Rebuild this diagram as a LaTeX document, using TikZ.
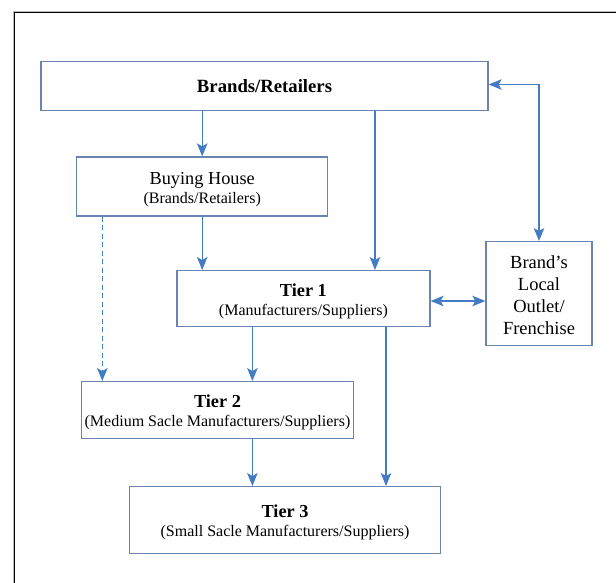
\documentclass[tikz,border=0pt]{standalone}
\usepackage{fontspec}
\setmainfont{Liberation Serif}
\usetikzlibrary{arrows.meta}

\definecolor{boxline}{RGB}{106,132,178}
\definecolor{flowblue}{RGB}{68,124,196}

\tikzset{
  panel/.style={draw=boxline, line width=1.3pt, inner sep=0pt, align=center,
    font=\fontsize{18.3}{19}\selectfont},
  flow/.style={draw=flowblue, line width=1.3pt,
    -{Stealth[length=13pt,width=10.5pt,inset=3pt]}},
  twoway/.style={draw=flowblue, line width=1.3pt,
    {Stealth[length=13pt,width=10.5pt,inset=3pt]}-{Stealth[length=13pt,width=10.5pt,inset=3pt]}},
  frameline/.style={draw=black, line width=1.4pt}
}
% second, smaller line of a two-line box
\newcommand{\subline}[1]{{\fontsize{16}{19}\selectfont #1}}
% extra head room on a first line, lowering the text block a little
\newcommand{\headroom}{\rule{0pt}{17.5pt}}

\begin{document}
\begin{tikzpicture}[x=1pt,y=-1pt]
  \useasboundingbox (0,0) rectangle (616,583);

  % outer frame (left and top edges)
  \draw[gray!55, line width=0.7pt] (13.4,583) -- (13.4,11.8) -- (616,11.8);
  \draw[frameline] (14.6,583) -- (14.6,12.7) -- (616,12.7);

  % boxes
  \node[panel, minimum width=447pt, minimum height=49pt,
        font=\fontsize{18.7}{19}\selectfont] (brands) at (264.5,85.7)
    {\bfseries Brands/Retailers};
  \node[panel, minimum width=251pt, minimum height=59pt] (buying) at (202.2,186.5)
    {\headroom Buying House\\\subline{(Brands/Retailers)}};
  \node[panel, minimum width=253pt, minimum height=56pt] (tier1) at (303.4,298.7)
    {\headroom\bfseries Tier 1\\\subline{(Manufacturers/Suppliers)}};
  \node[panel, minimum width=106pt, minimum height=104pt,
        font=\fontsize{18.5}{22.2}\selectfont] (outlet) at (539,293.7)
    {\rule{0pt}{16pt}Brand’s\\Local\\Outlet/\\Frenchise};
  \node[panel, minimum width=271.6pt, minimum height=56.6pt] (tier2) at (217.5,410)
    {\headroom\bfseries Tier 2\\\subline{(Medium Sacle Manufacturers/Suppliers)}};
  \node[panel, minimum width=311.4pt, minimum height=66.6pt] (tier3) at (285,520)
    {\headroom\bfseries Tier 3\\\subline{(Small Sacle Manufacturers/Suppliers)}};

  % connector columns
  \coordinate (colDash) at (102.3,0);
  \coordinate (colMid) at (252.4,0);
  \coordinate (colRetail) at (375,0);
  \coordinate (colRight) at (386,0);

  % connectors
  \draw[flow] (brands.south -| buying.north) -- (buying.north);
  \draw[flow] (brands.south -| colRetail) -- (tier1.north -| colRetail);
  \draw[twoway] ([yshift=1.2pt]brands.east) -| (outlet.north);
  \draw[flow] (buying.south) -- (buying.south |- tier1.north);
  \draw[flow, dash pattern=on 5pt off 3.5pt] (buying.south -| colDash) -- (tier2.north -| colDash);
  \draw[twoway] ([yshift=-2.3pt]tier1.east) -- ([yshift=-2.3pt]tier1.east -| outlet.west);
  \draw[flow] (tier1.south -| colMid) -- (tier2.north -| colMid);
  \draw[flow] (tier1.south -| colRight) -- (tier3.north -| colRight);
  \draw[flow] (tier2.south -| colMid) -- (tier3.north -| colMid);
\end{tikzpicture}
\end{document}
